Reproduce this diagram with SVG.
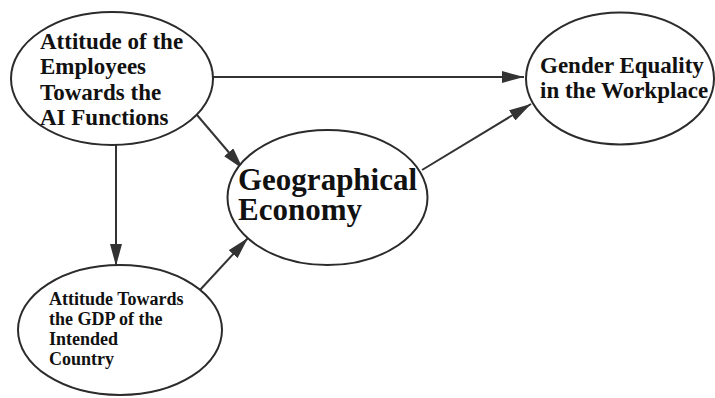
<svg xmlns="http://www.w3.org/2000/svg" width="715" height="398" viewBox="0 0 715 398">
  <style>
    .node ellipse { fill: #ffffff; stroke: #2b2b2b; stroke-width: 2; }
    .node text { font-family: "Liberation Serif", "Times New Roman", serif; font-weight: bold; fill: #111111; }
    .edge { stroke: #333333; stroke-width: 2; fill: none; marker-end: url(#arrow); }
  </style>
  <defs>
    <marker id="arrow" markerUnits="userSpaceOnUse" markerWidth="22" markerHeight="12" refX="22" refY="6" orient="auto">
      <path d="M0,0 L22,6 L0,12 z" fill="#333333"/>
    </marker>
  </defs>
  <rect width="715" height="398" fill="#ffffff"/>
  <g id="connectors">
    <line class="edge" x1="213" y1="77" x2="524" y2="77"/>
    <line class="edge" x1="197" y1="115" x2="243" y2="169"/>
    <line class="edge" x1="116" y1="145" x2="116" y2="266"/>
    <line class="edge" x1="200" y1="290" x2="248" y2="238"/>
    <line class="edge" x1="422" y1="170" x2="531" y2="104"/>
  </g>
  <g id="employees-attitude" class="node">
    <ellipse cx="112" cy="78.5" rx="101" ry="66.5"/>
    <text font-size="23">
      <tspan x="40" y="48.5">Attitude of the</tspan>
      <tspan x="40" y="74">Employees</tspan>
      <tspan x="40" y="99.5">Towards the</tspan>
      <tspan x="40" y="125">AI Functions</tspan>
    </text>
  </g>
  <g id="gender-equality" class="node">
    <ellipse cx="620" cy="78.5" rx="94" ry="66"/>
    <text font-size="23">
      <tspan x="540" y="73">Gender Equality</tspan>
      <tspan x="540" y="98">in the Workplace</tspan>
    </text>
  </g>
  <g id="geographical-economy" class="node">
    <ellipse cx="327.5" cy="197.5" rx="100" ry="67.5"/>
    <text font-size="31">
      <tspan x="238" y="190">Geographical</tspan>
      <tspan x="238" y="220">Economy</tspan>
    </text>
  </g>
  <g id="gdp-attitude" class="node">
    <ellipse cx="120" cy="330" rx="102" ry="65"/>
    <text font-size="18">
      <tspan x="49" y="305">Attitude Towards</tspan>
      <tspan x="49" y="325">the GDP of the</tspan>
      <tspan x="49" y="345">Intended</tspan>
      <tspan x="49" y="365">Country</tspan>
    </text>
  </g>
</svg>
